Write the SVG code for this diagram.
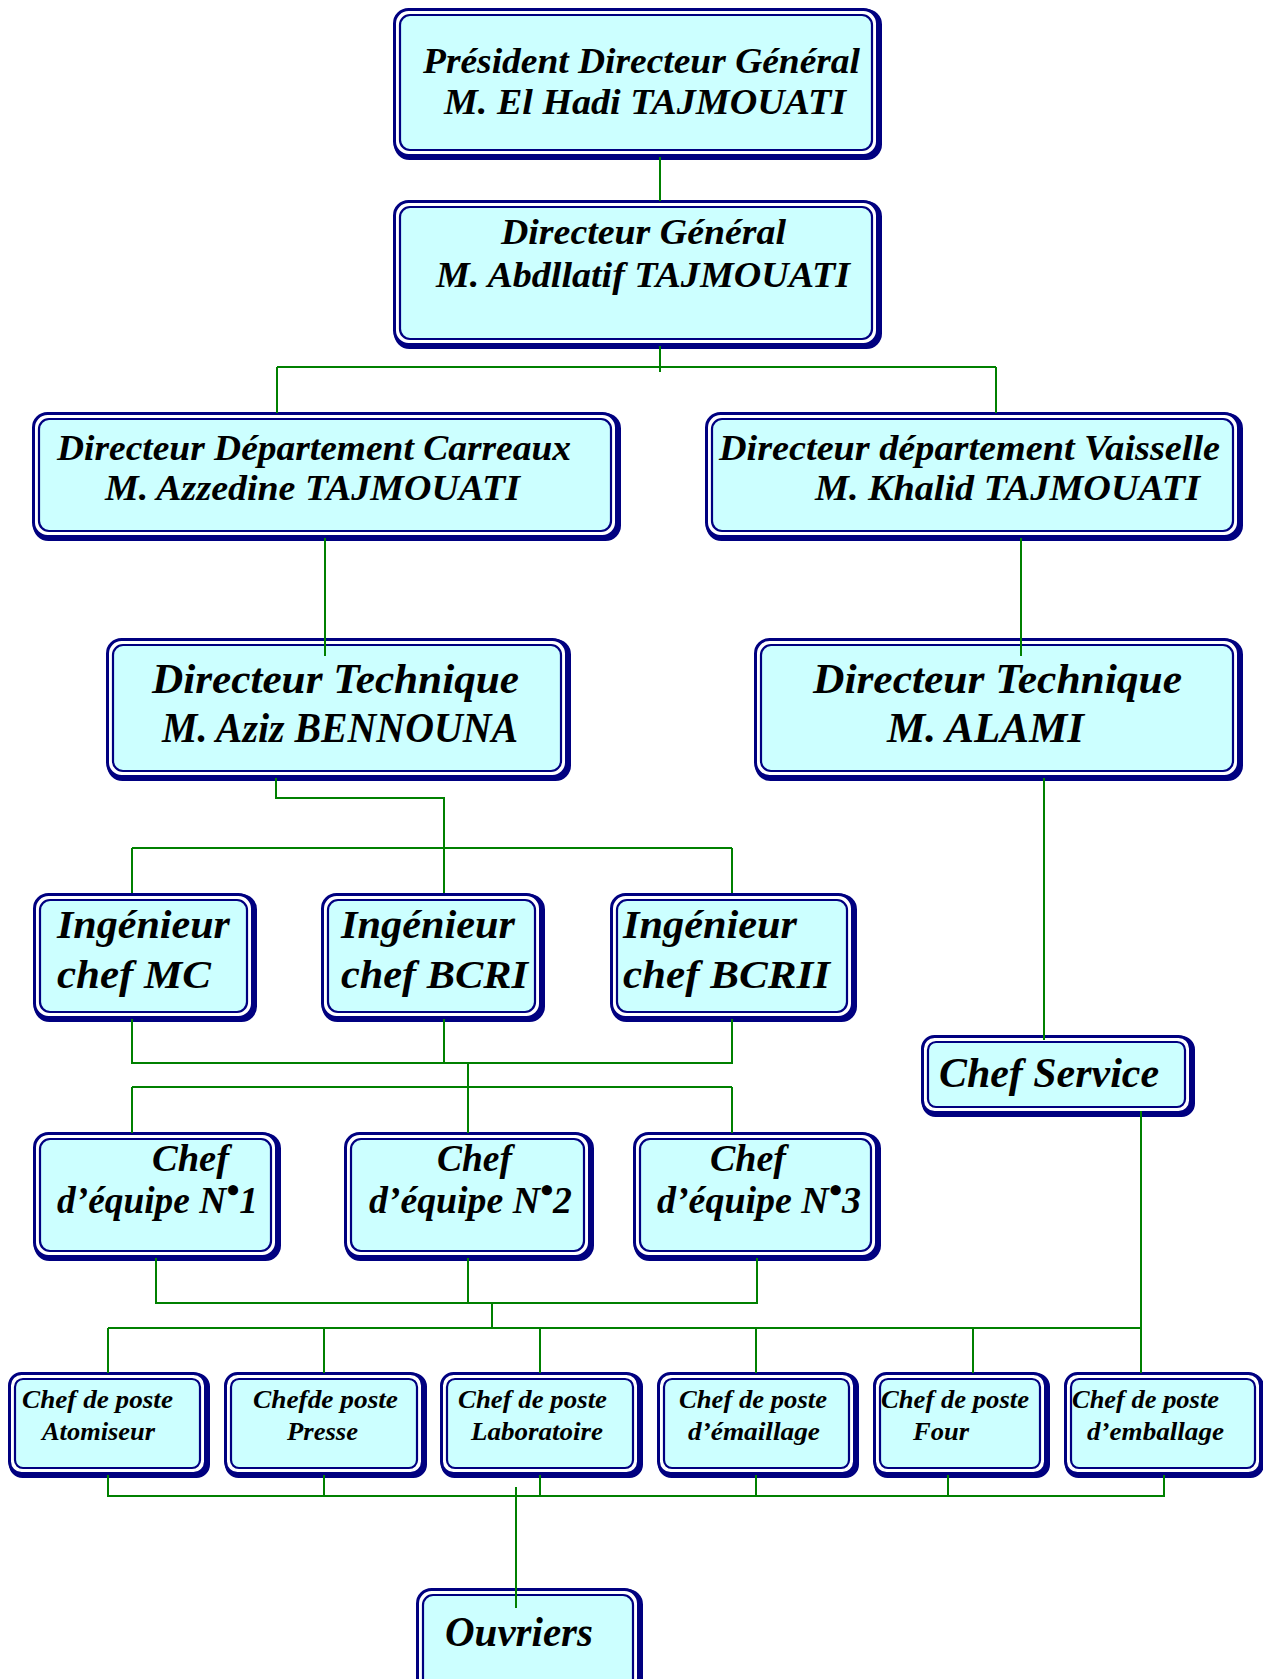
<svg xmlns="http://www.w3.org/2000/svg" width="1263" height="1679" viewBox="0 0 1263 1679">
<style>
.s { fill:#000080; stroke:#000080; stroke-width:3 }
.o { fill:#fff; stroke:#000080; stroke-width:3 }
.i { fill:#CCFFFF; stroke:#000080; stroke-width:2.2 }
.c { fill:none; stroke:#008000; stroke-width:2 }
text { font-family:"Liberation Serif","Times New Roman",serif; font-weight:bold; font-style:italic; fill:#000 }
.f36 { font-size:36px } .f42 { font-size:42px } .f40 { font-size:40px } .f37 { font-size:37px } .f25 { font-size:25px }
</style>
<rect width="1263" height="1679" fill="#fff"/>
<g id="nodes">
<g id="pdg">
<rect class="s" x="395.5" y="10.5" width="485" height="148" rx="14"/>
<rect class="o" x="394.5" y="9.5" width="483" height="146" rx="14"/>
<rect class="i" x="400" y="15" width="472" height="135" rx="10"/>
<text class="f36" x="423" y="73" textLength="437" lengthAdjust="spacingAndGlyphs">Président Directeur Général</text>
<text class="f36" x="444" y="114" textLength="402" lengthAdjust="spacingAndGlyphs">M. El Hadi TAJMOUATI</text>
</g>
<g id="dg">
<rect class="s" x="395.5" y="202.5" width="485" height="145" rx="14"/>
<rect class="o" x="394.5" y="201.5" width="483" height="143" rx="14"/>
<rect class="i" x="400" y="207" width="472" height="132" rx="10"/>
<text class="f36" x="501" y="244" textLength="285" lengthAdjust="spacingAndGlyphs">Directeur Général</text>
<text class="f36" x="436" y="287" textLength="414" lengthAdjust="spacingAndGlyphs">M. Abdllatif TAJMOUATI</text>
</g>
<g id="ddc">
<rect class="s" x="34.5" y="414.5" width="585" height="125" rx="14"/>
<rect class="o" x="33.5" y="413.5" width="583" height="123" rx="14"/>
<rect class="i" x="39" y="419" width="572" height="112" rx="10"/>
<text class="f36" x="57" y="460" textLength="514" lengthAdjust="spacingAndGlyphs">Directeur Département Carreaux</text>
<text class="f36" x="105" y="500" textLength="415" lengthAdjust="spacingAndGlyphs">M. Azzedine TAJMOUATI</text>
</g>
<g id="ddv">
<rect class="s" x="707.5" y="414.5" width="534" height="125" rx="14"/>
<rect class="o" x="706.5" y="413.5" width="532" height="123" rx="14"/>
<rect class="i" x="712" y="419" width="521" height="112" rx="10"/>
<text class="f36" x="719" y="460" textLength="501" lengthAdjust="spacingAndGlyphs">Directeur département Vaisselle</text>
<text class="f36" x="815" y="500" textLength="385" lengthAdjust="spacingAndGlyphs">M. Khalid TAJMOUATI</text>
</g>
<g id="dt1">
<rect class="s" x="108.5" y="640.5" width="461" height="139" rx="14"/>
<rect class="o" x="107.5" y="639.5" width="459" height="137" rx="14"/>
<rect class="i" x="113" y="645" width="448" height="126" rx="10"/>
<text class="f42" x="152" y="693" textLength="367" lengthAdjust="spacingAndGlyphs">Directeur Technique</text>
<text class="f42" x="162" y="742" textLength="356" lengthAdjust="spacingAndGlyphs">M. Aziz BENNOUNA</text>
</g>
<g id="dt2">
<rect class="s" x="756.5" y="640.5" width="485" height="139" rx="14"/>
<rect class="o" x="755.5" y="639.5" width="483" height="137" rx="14"/>
<rect class="i" x="761" y="645" width="472" height="126" rx="10"/>
<text class="f42" x="813" y="693" textLength="369" lengthAdjust="spacingAndGlyphs">Directeur Technique</text>
<text class="f42" x="887" y="742" textLength="197" lengthAdjust="spacingAndGlyphs">M. ALAMI</text>
</g>
<g id="ing1">
<rect class="s" x="35.5" y="895.5" width="220" height="125" rx="14"/>
<rect class="o" x="34.5" y="894.5" width="218" height="123" rx="14"/>
<rect class="i" x="40" y="900" width="207" height="112" rx="10"/>
<text class="f40" x="57" y="938" textLength="173" lengthAdjust="spacingAndGlyphs">Ingénieur</text>
<text class="f40" x="57" y="988" textLength="154" lengthAdjust="spacingAndGlyphs">chef MC</text>
</g>
<g id="ing2">
<rect class="s" x="323.5" y="895.5" width="220" height="125" rx="14"/>
<rect class="o" x="322.5" y="894.5" width="218" height="123" rx="14"/>
<rect class="i" x="328" y="900" width="207" height="112" rx="10"/>
<text class="f40" x="341" y="938" textLength="174" lengthAdjust="spacingAndGlyphs">Ingénieur</text>
<text class="f40" x="341" y="988" textLength="187" lengthAdjust="spacingAndGlyphs">chef BCRI</text>
</g>
<g id="ing3">
<rect class="s" x="612.5" y="895.5" width="243" height="125" rx="14"/>
<rect class="o" x="611.5" y="894.5" width="241" height="123" rx="14"/>
<rect class="i" x="617" y="900" width="230" height="112" rx="10"/>
<text class="f40" x="623" y="938" textLength="174" lengthAdjust="spacingAndGlyphs">Ingénieur</text>
<text class="f40" x="623" y="988" textLength="207" lengthAdjust="spacingAndGlyphs">chef BCRII</text>
</g>
<g id="cs">
<rect class="s" x="923.5" y="1037.5" width="270" height="78" rx="12"/>
<rect class="o" x="922.5" y="1036.5" width="268" height="76" rx="12"/>
<rect class="i" x="928" y="1042" width="257" height="65" rx="8"/>
<text class="f42" x="939" y="1087" textLength="220" lengthAdjust="spacingAndGlyphs">Chef Service</text>
</g>
<g id="ce1">
<rect class="s" x="35.5" y="1134.5" width="244" height="125" rx="14"/>
<rect class="o" x="34.5" y="1133.5" width="242" height="123" rx="14"/>
<rect class="i" x="40" y="1139" width="231" height="112" rx="10"/>
<text class="f37" x="152" y="1171" textLength="77" lengthAdjust="spacingAndGlyphs">Chef</text>
<text class="f37" x="57" y="1213" textLength="201" lengthAdjust="spacingAndGlyphs">d’équipe N<tspan dy="-10">•</tspan><tspan dy="10">1</tspan></text>
</g>
<g id="ce2">
<rect class="s" x="346.5" y="1134.5" width="246" height="125" rx="14"/>
<rect class="o" x="345.5" y="1133.5" width="244" height="123" rx="14"/>
<rect class="i" x="351" y="1139" width="233" height="112" rx="10"/>
<text class="f37" x="437" y="1171" textLength="75" lengthAdjust="spacingAndGlyphs">Chef</text>
<text class="f37" x="369" y="1213" textLength="203" lengthAdjust="spacingAndGlyphs">d’équipe N<tspan dy="-10">•</tspan><tspan dy="10">2</tspan></text>
</g>
<g id="ce3">
<rect class="s" x="635.5" y="1134.5" width="244" height="125" rx="14"/>
<rect class="o" x="634.5" y="1133.5" width="242" height="123" rx="14"/>
<rect class="i" x="640" y="1139" width="231" height="112" rx="10"/>
<text class="f37" x="710" y="1171" textLength="76" lengthAdjust="spacingAndGlyphs">Chef</text>
<text class="f37" x="657" y="1213" textLength="204" lengthAdjust="spacingAndGlyphs">d’équipe N<tspan dy="-10">•</tspan><tspan dy="10">3</tspan></text>
</g>
<g id="cp1">
<rect class="s" x="10.5" y="1374.5" width="198" height="102" rx="12"/>
<rect class="o" x="9.5" y="1373.5" width="196" height="100" rx="12"/>
<rect class="i" x="15" y="1379" width="185" height="89" rx="8"/>
<text class="f25" x="22" y="1408" textLength="151" lengthAdjust="spacingAndGlyphs">Chef de poste</text>
<text class="f25" x="42" y="1440" textLength="113" lengthAdjust="spacingAndGlyphs">Atomiseur</text>
</g>
<g id="cp2">
<rect class="s" x="226.5" y="1374.5" width="199" height="102" rx="12"/>
<rect class="o" x="225.5" y="1373.5" width="197" height="100" rx="12"/>
<rect class="i" x="231" y="1379" width="186" height="89" rx="8"/>
<text class="f25" x="253" y="1408" textLength="145" lengthAdjust="spacingAndGlyphs">Chefde poste</text>
<text class="f25" x="287" y="1440" textLength="71" lengthAdjust="spacingAndGlyphs">Presse</text>
</g>
<g id="cp3">
<rect class="s" x="442.5" y="1374.5" width="199" height="102" rx="12"/>
<rect class="o" x="441.5" y="1373.5" width="197" height="100" rx="12"/>
<rect class="i" x="447" y="1379" width="186" height="89" rx="8"/>
<text class="f25" x="458" y="1408" textLength="149" lengthAdjust="spacingAndGlyphs">Chef de poste</text>
<text class="f25" x="471" y="1440" textLength="132" lengthAdjust="spacingAndGlyphs">Laboratoire</text>
</g>
<g id="cp4">
<rect class="s" x="659.5" y="1374.5" width="198" height="102" rx="12"/>
<rect class="o" x="658.5" y="1373.5" width="196" height="100" rx="12"/>
<rect class="i" x="664" y="1379" width="185" height="89" rx="8"/>
<text class="f25" x="679" y="1408" textLength="148" lengthAdjust="spacingAndGlyphs">Chef de poste</text>
<text class="f25" x="688" y="1440" textLength="132" lengthAdjust="spacingAndGlyphs">d’émaillage</text>
</g>
<g id="cp5">
<rect class="s" x="875.5" y="1374.5" width="173" height="102" rx="12"/>
<rect class="o" x="874.5" y="1373.5" width="171" height="100" rx="12"/>
<rect class="i" x="880" y="1379" width="160" height="89" rx="8"/>
<text class="f25" x="881" y="1408" textLength="148" lengthAdjust="spacingAndGlyphs">Chef de poste</text>
<text class="f25" x="913" y="1440" textLength="56" lengthAdjust="spacingAndGlyphs">Four</text>
</g>
<g id="cp6">
<rect class="s" x="1066.5" y="1374.5" width="196" height="102" rx="12"/>
<rect class="o" x="1065.5" y="1373.5" width="195" height="100" rx="12"/>
<rect class="i" x="1071" y="1379" width="184" height="89" rx="8"/>
<text class="f25" x="1072" y="1408" textLength="147" lengthAdjust="spacingAndGlyphs">Chef de poste</text>
<text class="f25" x="1087" y="1440" textLength="137" lengthAdjust="spacingAndGlyphs">d’emballage</text>
</g>
<g id="ouv">
<rect class="s" x="418.5" y="1590.5" width="223" height="120" rx="14"/>
<rect class="o" x="417.5" y="1589.5" width="221" height="118" rx="14"/>
<rect class="i" x="423" y="1595" width="210" height="107" rx="10"/>
<text class="f42" x="445" y="1646" textLength="148" lengthAdjust="spacingAndGlyphs">Ouvriers</text>
</g>
</g>
<g id="connectors" class="c">
<path class="c" d="M660,157 V201"/>
<path class="c" d="M660,346 V372 M277,367 H996 M277,367 V413 M996,367 V413"/>
<path class="c" d="M325,538 V656 M1021,538 V656"/>
<path class="c" d="M276,778 V798 H444 V893 M132,848 H732 M132,848 V893 M732,848 V893"/>
<path class="c" d="M132,1019 V1063 H732 V1019 M444,1019 V1063 M468,1063 V1133 M132,1087 H732 M132,1087 V1133 M732,1087 V1133"/>
<path class="c" d="M1044,778 V1040 M1141,1111 V1373"/>
<path class="c" d="M156,1258 V1303 H757 V1258 M468,1258 V1303 M492,1303 V1328 M108,1328 H1141 M108,1328 V1373 M324,1328 V1373 M540,1328 V1373 M756,1328 V1373 M973,1328 V1373"/>
<path class="c" d="M108,1475 V1496 H1164 V1475 M324,1475 V1496 M540,1475 V1496 M756,1475 V1496 M948,1475 V1496 M516,1487 V1608"/>
</g>
</svg>
